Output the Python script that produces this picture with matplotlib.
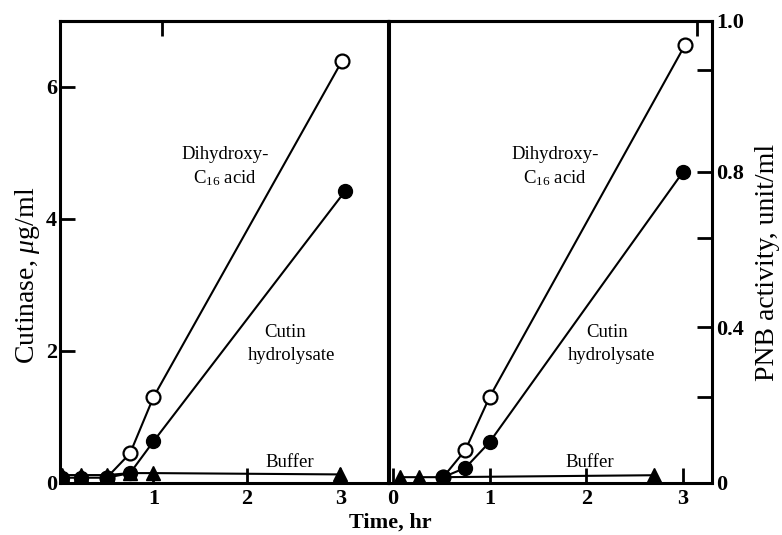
import numpy as np
import matplotlib
matplotlib.use('Agg')
import matplotlib.pyplot as plt

plt.rcParams['font.family'] = ['Liberation Serif', 'DejaVu Serif']
plt.rcParams['mathtext.fontset'] = 'custom'
plt.rcParams['mathtext.rm'] = 'Liberation Serif'
plt.rcParams['mathtext.it'] = 'Liberation Serif:italic'

#=============================DATA========================================
# left panel: cutinase, ug/ml
left_buffer_x = [0.02, 0.23, 0.5, 0.75, 1.0, 3.0]
left_buffer_y = [0.12, 0.12, 0.12, 0.15, 0.15, 0.13]
left_cutin_x = [0.02, 0.23, 0.5, 0.75, 1.0, 3.05]
left_cutin_y = [0.08, 0.08, 0.08, 0.15, 0.63, 4.42]
left_dihyd_x = [0.5, 0.75, 1.0, 3.02]
left_dihyd_y = [0.08, 0.45, 1.3, 6.4]

# right panel: PNB activity, unit/ml
right_buffer_x = [0.07, 0.27, 0.52, 2.7]
right_buffer_y = [0.015, 0.015, 0.015, 0.02]
right_cutin_x = [0.52, 0.75, 1.0, 3.0]
right_cutin_y = [0.015, 0.039, 0.105, 0.8]
right_dihyd_x = [0.52, 0.75, 1.0, 3.02]
right_dihyd_y = [0.015, 0.085, 0.221, 0.968]

left_yticks = [0, 2, 4, 6]
left_xticks = [1, 2, 3]
right_xticks = [0, 1, 2, 3]
right_yticks = [0, 0.4, 0.8, 1.0]
right_yticklabels = ['0', '0.4', '0.8', '1.0']
right_yminor = [0.22, 0.63, 0.935]

#=============================FUNCTIONS========================================

# the printed right axis is stretched above 0.8
K = 1.942
def fwd(y):
    y = np.asarray(y, dtype=float)
    return np.where(y <= 0.8, y, 0.8 + (y - 0.8) * K)

def inv(v):
    v = np.asarray(v, dtype=float)
    return np.where(v <= 0.8, v, 0.8 + (v - 0.8) / K)

def drawSeries(ax, bx, by, cx, cy, dx, dy):
    ax.plot(dx, dy, '-', color='black', lw=1.5, marker='o', ms=10,
            mfc='white', mec='black', mew=1.6, zorder=3)
    ax.plot(cx, cy, '-', color='black', lw=1.5, marker='o', ms=10,
            mfc='black', mec='black', zorder=4)
    ax.plot(bx, by, '-', color='black', lw=1.5, marker='^', ms=10,
            mfc='black', mec='black', zorder=5)

def styleAxes(ax):
    for s in ax.spines.values():
        s.set_linewidth(2.2)
    ax.tick_params(direction='in', length=11, width=2, labelsize=16,
                   pad=4)
    ax.tick_params(which='minor', direction='in', length=11, width=2)
    for lab in ax.get_xticklabels() + ax.get_yticklabels():
        lab.set_fontweight('bold')

def addNotes(ax, pos):
    notes = ['Dihydroxy-', 'C$_{16}$ acid', 'Cutin', 'hydrolysate', 'Buffer']
    for t, (x, y) in zip(notes, pos):
        ax.text(x, y, t, transform=ax.transAxes, ha='center', va='center',
                fontsize=13.5)

#=============================MAIN========================================
fig = plt.figure(figsize=(7.82, 5.35), dpi=100)
axL = fig.add_axes([60/782, 52/535, 328/782, 462/535])
axR = fig.add_axes([389/782, 52/535, 323/782, 462/535])

# left panel
drawSeries(axL, left_buffer_x, left_buffer_y, left_cutin_x, left_cutin_y,
           left_dihyd_x, left_dihyd_y)
axL.set_xlim(0, 3.51)
axL.set_ylim(0, 7)
axL.set_xticks(left_xticks)
axL.set_yticks(left_yticks)
axL.set_yticklabels([str(v) for v in left_yticks])
styleAxes(axL)
axL.tick_params(axis='y', pad=2)
topL = axL.secondary_xaxis('top')
topL.set_xticks([1.09])
topL.set_xticklabels([])
topL.tick_params(direction='in', length=11, width=2)
topL.spines['top'].set_linewidth(2.2)
addNotes(axL, [(0.503, 0.71), (0.503, 0.66), (0.686, 0.325),
               (0.707, 0.275), (0.70, 0.045)])

# right panel
axR.set_yscale('function', functions=(fwd, inv))
drawSeries(axR, right_buffer_x, right_buffer_y, right_cutin_x, right_cutin_y,
           right_dihyd_x, right_dihyd_y)
axR.set_xlim(-0.04, 3.30)
axR.set_ylim(0, 1.0)
axR.set_xticks(right_xticks)
axR.yaxis.tick_right()
axR.set_yticks(right_yticks)
axR.set_yticklabels(right_yticklabels)
axR.set_yticks(right_yminor, minor=True)
styleAxes(axR)
axR.tick_params(axis='y', which='both', left=False, right=True, pad=3)
topR = axR.secondary_xaxis('top')
topR.set_xticks([3.15])
topR.set_xticklabels([])
topR.tick_params(direction='in', length=11, width=2)
topR.spines['top'].set_linewidth(2.2)
addNotes(axR, [(0.514, 0.71), (0.514, 0.66), (0.675, 0.325),
               (0.69, 0.275), (0.622, 0.045)])

# axis titles
fig.text(28/782, 1 - 275/535, 'Cutinase, $\\mathit{\\mu}$g/ml', rotation=90,
         ha='center', va='center', fontsize=20)
fig.text(768/782, 1 - 262/535, 'PNB activity, unit/ml', rotation=90,
         ha='center', va='center', fontsize=20)
fig.text(390/782, 1 - 523/535, 'Time, hr', ha='center', va='center',
         fontsize=16, fontweight='bold')

fig.savefig('out.png', dpi=100)
